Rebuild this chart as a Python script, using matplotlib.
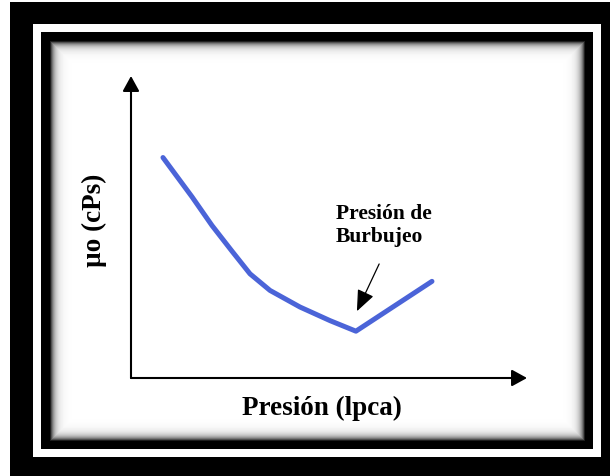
import numpy as np
import matplotlib
matplotlib.use("Agg")
import matplotlib.pyplot as plt
from matplotlib.transforms import offset_copy

plt.rcParams['font.family'] = ['Liberation Serif', 'DejaVu Serif']

# curva de viscosidad del petróleo vs presión
presion = [323, 616, 818, 1020, 1202, 1404, 1707, 2010, 2272, 3040]
viscosidad = [1.46, 1.20, 1.01, 0.84, 0.69, 0.58, 0.47, 0.38, 0.31, 0.64]
p_burbujeo = 2272
mu_burbujeo = 0.31

W, H = 610, 477
fig = plt.figure(figsize=(W / 100, H / 100), dpi=100)

# ---- marco negro / blanco con sombra interior ----
bg = np.zeros((H, W))
yy, xx = np.mgrid[0:H, 0:W] + 0.5
bg[:3, :] = 1.0
bg[:, :10] = 1.0
# linea blanca
outer = (xx >= 33) & (xx <= 601) & (yy >= 25) & (yy <= 458)
inner = (xx >= 41) & (xx <= 593) & (yy >= 33) & (yy <= 450)
bg[outer & ~inner] = 1.0
bg[inner] = 0.0
# interior con degradado
x0, y0, x1, y1 = 50, 42, 585, 442
zona = (xx >= x0) & (xx <= x1) & (yy >= y0) & (yy <= y1)
d = np.minimum.reduce([xx - x0, x1 - xx, yy - y0, y1 - yy])
bg[zona] = (1 - np.exp(-d / 4.0))[zona]

ax_bg = fig.add_axes([0, 0, 1, 1])
ax_bg.imshow(bg, cmap='gray', vmin=0, vmax=1, extent=(0, W, H, 0),
             interpolation='nearest', aspect='auto')
ax_bg.axis('off')

# ---- grafico ----
ax = fig.add_axes([131 / W, (H - 379) / H, 396 / W, 302 / H])
ax.patch.set_alpha(0)
ax.set_xlim(0, 4000)
ax.set_ylim(0, 2.0)

ax.plot(presion, viscosidad, color='#4b64d8', lw=3.6, solid_capstyle='round',
        solid_joinstyle='round')

for s in ax.spines.values():
    s.set_visible(False)
ax.set_xticks([])
ax.set_yticks([])

# ejes con flecha
flecha = dict(arrowstyle='-|>,head_length=0.4,head_width=0.22', lw=1.5,
              color='black', mutation_scale=23, shrinkA=0, shrinkB=0)
ax.annotate('', xy=(0, 1), xytext=(0, 0), xycoords='axes fraction',
            arrowprops=flecha)
ax.annotate('', xy=(1, 0), xytext=(0, 0), xycoords='axes fraction',
            arrowprops=flecha)

ax.set_xlabel('Presión (lpca)', fontsize=19.5, fontweight='bold')
ax.xaxis.set_label_coords(0.482, -0.057)
ax.xaxis.label.set_va('top')
ax.set_ylabel('µo (cPs)', fontsize=19.5, fontweight='bold')
ax.yaxis.set_label_coords(-0.06, 0.526)

# punto de burbujeo
ax.text(0.518, 0.58, 'Presión de\nBurbujeo', transform=ax.transAxes,
        fontsize=15.5, fontweight='bold', ha='left', va='top', linespacing=1.2)
punta = offset_copy(ax.transData, fig=fig, x=1, y=20, units='dots')
ax.annotate('', xy=(p_burbujeo, mu_burbujeo), xycoords=punta,
            xytext=(16, 34), textcoords='offset points',
            arrowprops=dict(arrowstyle='-|>,head_length=0.65,head_width=0.27',
                            lw=0.9, color='black', mutation_scale=20,
                            shrinkA=0, shrinkB=0))

fig.savefig('out.png', dpi=100)
